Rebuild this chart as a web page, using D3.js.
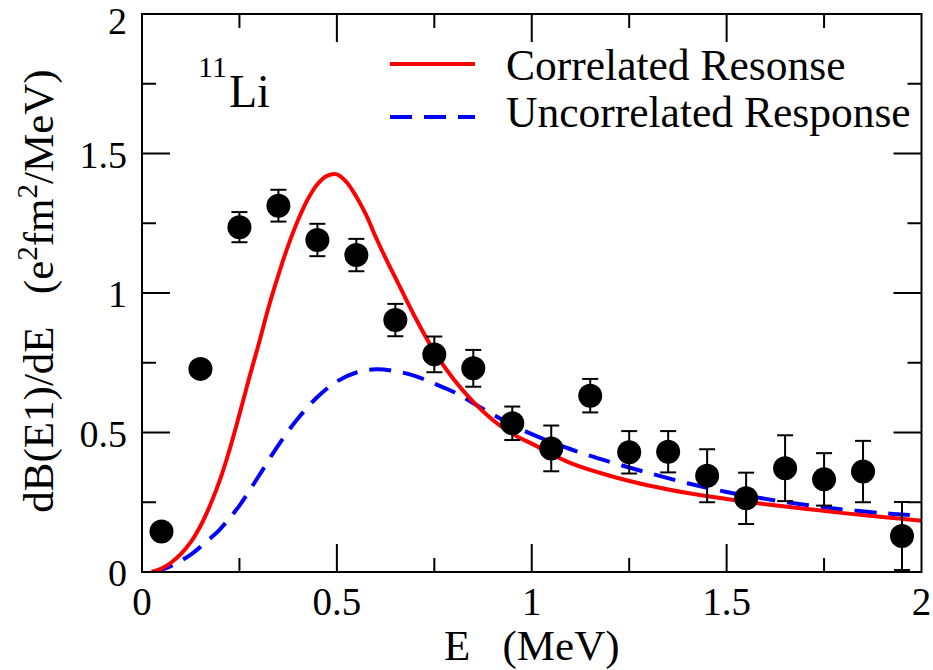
<!DOCTYPE html>
<html>
<head>
<meta charset="utf-8">
<script src="https://cdn.jsdelivr.net/npm/d3@7"></script>
<style>
  html, body { margin: 0; padding: 0; background: #fff; }
  svg { display: block; font-family: "Liberation Serif", "Times New Roman", serif; }
  text { white-space: pre; }
</style>
</head>
<body>
<svg id="chart" width="933" height="670"></svg>
<script>
// ---- Data ----
const dataE   = [0.05, 0.15, 0.25, 0.35, 0.45, 0.55, 0.65, 0.75, 0.85, 0.95, 1.05, 1.15, 1.25, 1.35, 1.45, 1.55, 1.65, 1.75, 1.85, 1.95];
const dataB   = [0.145, 0.728, 1.236, 1.313, 1.19, 1.136, 0.903, 0.78, 0.73, 0.533, 0.443, 0.632, 0.429, 0.431, 0.345, 0.264, 0.372, 0.332, 0.36, 0.129];
const dataErr = [0.02, 0.02, 0.054, 0.057, 0.058, 0.058, 0.058, 0.064, 0.066, 0.06, 0.082, 0.06, 0.076, 0.074, 0.095, 0.092, 0.118, 0.094, 0.11, 0.122];

const corrE = [0.025, 0.05, 0.075, 0.1, 0.125, 0.15, 0.175, 0.2, 0.225, 0.25, 0.275, 0.3, 0.325, 0.35, 0.375, 0.4, 0.425, 0.45, 0.475, 0.5, 0.525, 0.55, 0.575, 0.6, 0.625, 0.65, 0.7, 0.75, 0.8, 0.85, 0.9, 0.95, 1.0, 1.1, 1.2, 1.3, 1.4, 1.5, 1.6, 1.7, 1.8, 1.9, 2.0];
const corrB = [0, 0.012, 0.034, 0.065, 0.107, 0.165, 0.24, 0.33, 0.44, 0.565, 0.695, 0.82, 0.95, 1.065, 1.17, 1.26, 1.335, 1.39, 1.42, 1.425, 1.397, 1.345, 1.28, 1.2, 1.125, 1.055, 0.915, 0.79, 0.69, 0.61, 0.545, 0.495, 0.46, 0.39, 0.345, 0.31, 0.283, 0.262, 0.243, 0.227, 0.211, 0.197, 0.184];

const uncE = [0.025, 0.05, 0.075, 0.1, 0.125, 0.15, 0.175, 0.2, 0.25, 0.3, 0.35, 0.4, 0.45, 0.5, 0.55, 0.6, 0.65, 0.7, 0.75, 0.8, 0.85, 0.9, 0.95, 1.0, 1.1, 1.2, 1.3, 1.4, 1.5, 1.6, 1.7, 1.8, 1.9, 1.97];
const uncB = [0, 0.008, 0.022, 0.04, 0.062, 0.09, 0.12, 0.153, 0.238, 0.345, 0.455, 0.55, 0.627, 0.683, 0.715, 0.727, 0.72, 0.703, 0.675, 0.645, 0.605, 0.565, 0.527, 0.494, 0.44, 0.395, 0.355, 0.318, 0.287, 0.262, 0.241, 0.224, 0.211, 0.204];

const xTicksMajor = [0, 0.5, 1, 1.5, 2];
const xTickLabels = ["0", "0.5", "1", "1.5", "2"];
const yTicksMajor = [0, 0.5, 1, 1.5, 2];
const yTickLabels = ["0", "0.5", "1", "1.5", "2"];
const minorTicks  = [0.25, 0.75, 1.25, 1.75];
const seriesNames = ["Correlated Resonse", "Uncorrelated Response"];

// ---- Layout ----
const svg = d3.select("#chart");
const W = 933, H = 670;
const margin = {left: 142, right: 11.5, top: 14, bottom: 98};
const x = d3.scaleLinear().domain([0, 2]).range([margin.left, W - margin.right]);
const y = d3.scaleLinear().domain([0, 2]).range([H - margin.bottom, margin.top]);

const x0 = x(0), x1 = x(2), y0 = y(0), y1 = y(2);
const majorLen = 28, minorLen = 14;

const g = svg.append("g");

// ticks (inside, all four sides)
const tickG = g.append("g").attr("stroke", "#000").attr("stroke-width", 2);
xTicksMajor.concat(minorTicks).forEach(t => {
  const len = xTicksMajor.includes(t) ? majorLen : minorLen;
  if (t > 0 && t < 2) {
    tickG.append("line").attr("x1", x(t)).attr("x2", x(t)).attr("y1", y0).attr("y2", y0 - len);
    tickG.append("line").attr("x1", x(t)).attr("x2", x(t)).attr("y1", y1).attr("y2", y1 + len);
  }
});
yTicksMajor.concat(minorTicks).forEach(t => {
  const len = yTicksMajor.includes(t) ? majorLen : minorLen;
  if (t > 0 && t < 2) {
    tickG.append("line").attr("y1", y(t)).attr("y2", y(t)).attr("x1", x0).attr("x2", x0 + len);
    tickG.append("line").attr("y1", y(t)).attr("y2", y(t)).attr("x1", x1).attr("x2", x1 - len);
  }
});

// tick labels
xTicksMajor.forEach((t, i) => {
  g.append("text").attr("x", x(t)).attr("y", 615).attr("text-anchor", "middle")
    .attr("font-size", 39).text(xTickLabels[i]);
});
yTicksMajor.forEach((t, i) => {
  const base = Math.max(y(t) + 14, 34);
  g.append("text").attr("x", 127).attr("y", base).attr("text-anchor", "end")
    .attr("font-size", 38).text(yTickLabels[i]);
});

// axis titles
g.append("text").attr("x", x(1)).attr("y", 660).attr("text-anchor", "middle")
  .attr("font-size", 43).text("E   (MeV)");

const yt = g.append("text").attr("transform", "translate(53,291) rotate(-90)")
  .attr("text-anchor", "middle").attr("font-size", 43);
yt.append("tspan").text("dB(E1)/dE   (e");
yt.append("tspan").attr("font-size", 29).attr("dy", -16).text("2");
yt.append("tspan").attr("dy", 16).text("fm");
yt.append("tspan").attr("font-size", 29).attr("dy", -16).text("2");
yt.append("tspan").attr("dy", 16).text("/MeV)");

// curves
const line = d3.line().x(d => x(d[0])).y(d => y(d[1])).curve(d3.curveCatmullRom.alpha(0.5));
svg.append("defs").append("clipPath").attr("id", "clip")
  .append("rect").attr("x", x0).attr("y", y1).attr("width", x1 - x0).attr("height", y0 - y1);

g.append("path").datum(uncE.map((e, i) => [e, uncB[i]]))
  .attr("d", line).attr("fill", "none").attr("stroke", "#0000ff")
  .attr("stroke-width", 4).attr("stroke-dasharray", "22,12").attr("clip-path", "url(#clip)");
g.append("path").datum(corrE.map((e, i) => [e, corrB[i]]))
  .attr("d", line).attr("fill", "none").attr("stroke", "#ff0000")
  .attr("stroke-width", 4).attr("clip-path", "url(#clip)");

// data points with error bars
const pts = g.append("g");
dataE.forEach((e, i) => {
  const cx = x(e), yt_ = y(dataB[i] + dataErr[i]), yb = y(dataB[i] - dataErr[i]);
  pts.append("line").attr("x1", cx).attr("x2", cx).attr("y1", yt_).attr("y2", yb)
    .attr("stroke", "#000").attr("stroke-width", 2);
  pts.append("line").attr("x1", cx - 8).attr("x2", cx + 8).attr("y1", yt_).attr("y2", yt_)
    .attr("stroke", "#000").attr("stroke-width", 2);
  pts.append("line").attr("x1", cx - 8).attr("x2", cx + 8).attr("y1", yb).attr("y2", yb)
    .attr("stroke", "#000").attr("stroke-width", 2);
  pts.append("circle").attr("cx", cx).attr("cy", y(dataB[i])).attr("r", 12).attr("fill", "#000");
});

// frame
g.append("rect").attr("x", x0).attr("y", y1).attr("width", x1 - x0).attr("height", y0 - y1)
  .attr("fill", "none").attr("stroke", "#000").attr("stroke-width", 2);

// nucleus label
const nl = g.append("text").attr("x", 198).attr("y", 107);
nl.append("tspan").attr("font-size", 30).attr("dy", -30).text("11");
nl.append("tspan").attr("font-size", 46).attr("dy", 30).attr("dx", 2).text("Li");

// legend
g.append("line").attr("x1", 390).attr("x2", 475).attr("y1", 64).attr("y2", 64)
  .attr("stroke", "#ff0000").attr("stroke-width", 4);
g.append("line").attr("x1", 390).attr("x2", 475).attr("y1", 117).attr("y2", 117)
  .attr("stroke", "#0000ff").attr("stroke-width", 4).attr("stroke-dasharray", "22,12");
g.append("text").attr("x", 506).attr("y", 79.5).attr("font-size", 43.5).text(seriesNames[0]);
g.append("text").attr("x", 506).attr("y", 126.5).attr("font-size", 43.5).text(seriesNames[1]);
</script>
</body>
</html>
